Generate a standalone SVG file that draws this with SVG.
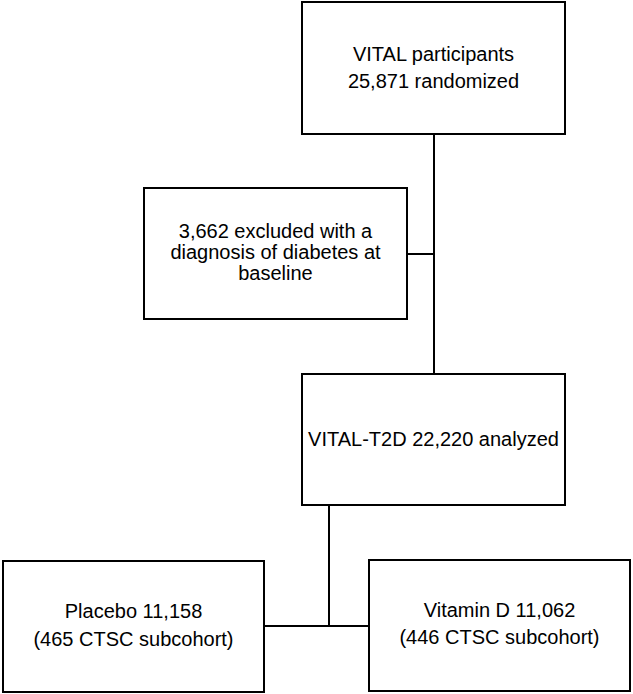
<svg xmlns="http://www.w3.org/2000/svg" width="633" height="694" viewBox="0 0 633 694">
<style>
.box{fill:#fff;stroke:#000;stroke-width:2}
.line{fill:none;stroke:#000;stroke-width:2}
text{font-family:"Liberation Sans",Arial,sans-serif;font-size:20px;fill:#000;text-anchor:middle}
</style>
<rect width="633" height="694" fill="#fff"/>
<g id="connectors">
<path class="line" d="M434,134 V374"/>
<path class="line" d="M407,254 H434"/>
<path class="line" d="M329,505 V626"/>
<path class="line" d="M264,626 H369"/>
</g>
<g id="node-vital">
<rect class="box" x="302" y="2" width="263" height="132"/>
<text x="433.5" y="61">VITAL participants</text>
<text x="433.5" y="88">25,871 randomized</text>
</g>
<g id="node-excluded">
<rect class="box" x="144" y="188" width="263" height="131"/>
<text x="275.5" y="238">3,662 excluded with a</text>
<text x="275.5" y="259">diagnosis of diabetes at</text>
<text x="275.5" y="280">baseline</text>
</g>
<g id="node-t2d">
<rect class="box" x="302" y="374" width="263" height="131"/>
<text x="433.5" y="446">VITAL-T2D 22,220 analyzed</text>
</g>
<g id="node-placebo">
<rect class="box" x="3" y="561" width="261" height="131"/>
<text x="133.5" y="618">Placebo 11,158</text>
<text x="133.5" y="646">(465 CTSC subcohort)</text>
</g>
<g id="node-vitd">
<rect class="box" x="369" y="560" width="261" height="131"/>
<text x="499.5" y="617">Vitamin D 11,062</text>
<text x="499.5" y="644">(446 CTSC subcohort)</text>
</g>
</svg>
